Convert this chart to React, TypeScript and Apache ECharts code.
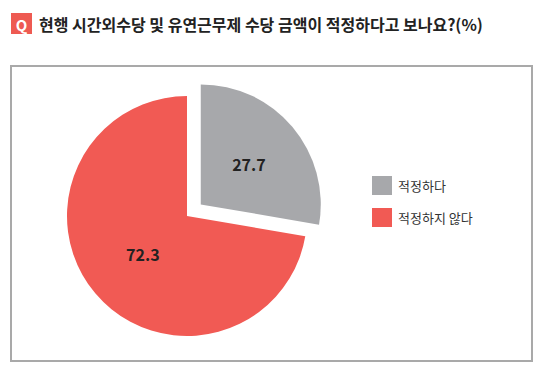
import React, { useEffect, useRef } from "react";
import * as echarts from "echarts";

const TITLE = "현행 시간외수당 및 유연근무제 수당 금액이 적정하다고 보나요?(%)";
const categories = ["적정하다", "적정하지 않다"];
const values = [27.7, 72.3];
const colors = ["#a7a8ab", "#f15a54"];

const FONT = "'Noto Sans CJK KR', 'Noto Sans', sans-serif";

export default function App() {
  const ref = useRef<HTMLDivElement>(null);
  useEffect(() => {
    if (!ref.current) return;
    const chart = echarts.init(ref.current, undefined, { renderer: "svg" });
    chart.setOption({
      animation: false,
      backgroundColor: "#ffffff",
      textStyle: { fontFamily: FONT },
      legend: {
        orient: "vertical",
        left: 367,
        top: 171,
        itemWidth: 20,
        itemHeight: 19,
        itemGap: 13,
        icon: "rect",
        selectedMode: false,
        data: categories,
        textStyle: { fontSize: 13, color: "#333", fontFamily: FONT, padding: [0, 0, 0, 1] },
      },
      graphic: [
        {
          type: "rect",
          shape: { x: 11, y: 66, width: 521, height: 295 },
          style: { fill: "none", stroke: "#a9a9a9", lineWidth: 2 },
          z: 0,
        },
        {
          type: "rect",
          shape: { x: 11, y: 13, width: 21, height: 21 },
          style: { fill: "#ee5a52" },
        },
        {
          type: "text",
          x: 21.5,
          y: 24,
          style: {
            text: "Q",
            fill: "#fff",
            font: `bold 15px ${FONT}`,
            align: "center",
            verticalAlign: "middle",
          },
        },
        {
          type: "text",
          x: 39,
          y: 24,
          style: {
            text: TITLE,
            fill: "#222",
            font: `bold 16px ${FONT}`,
            verticalAlign: "middle",
          },
        },
      ],
      series: [
        {
          type: "pie",
          center: [187, 216],
          radius: [0, 120],
          startAngle: 90,
          clockwise: true,
          selectedMode: "single",
          selectedOffset: 18,
          emphasis: { disabled: true },
          labelLine: { show: false },
          label: {
            show: true,
            position: "inside",
            formatter: "{c}",
            fontSize: 16,
            fontWeight: "bold",
            color: "#222",
            fontFamily: FONT,
          },
          data: categories.map((name, i) => ({
            name,
            value: values[i],
            selected: i === 0,
            itemStyle: { color: colors[i] },
            label: { offset: i === 0 ? [13, -6] : [4, -3] },
          })),
        },
      ],
    });
    return () => chart.dispose();
  }, []);
  return (
    <div
      ref={ref}
      style={{ position: "fixed", left: 0, top: 0, width: 548, height: 379 }}
    />
  );
}
